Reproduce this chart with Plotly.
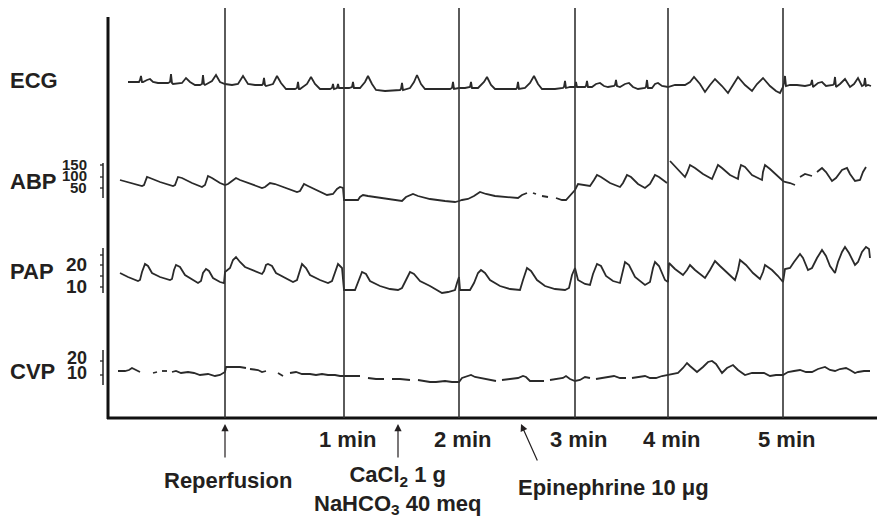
import plotly.graph_objects as go

W, H = 877, 518
INK = "#231f20"
TRACE = "#2a2a2a"
FONT = "Liberation Sans, Arial, sans-serif"

# ---- data (strip position, trace level) ----
ecg_x = [128,139,140,141,142,143,147,150,153,158,168,170,171,172,173,182,186,190,195,200,202,203,204,205,212,216,220,225,
         232,238,243,248,255,262,263,264,265,266,273,277,281,286,295,297,298,299,300,307,311,315,320,330,332,333,334,337,338,339,344,
         349,352,353,354,360,365,368,372,376,385,395,400,401,402,403,410,414,417,421,425,440,450,452,453,454,459,
         465,470,471,472,478,484,487,491,495,510,516,517,518,519,525,530,534,538,542,555,563,564,565,566,570,575,
         576,577,580,585,586,587,588,592,596,600,604,608,614,615,616,617,620,625,629,633,638,645,646,647,648,652,655,658,662,668,
         675,685,690,694,700,705,710,715,722,728,733,738,745,752,757,763,770,776,780,783,
         784,785,786,790,797,805,810,811,812,813,818,822,826,833,834,835,836,840,845,850,854,858,862,864,865,866,868,871]
ecg_y = [82,82,80,76,82,82,80,79,82,83,83,82,74,83,84,83,78,82,85,85,84,75,84,85,81,75,82,84,
         85,84,76,84,85,85,84,78,85,86,84,76,83,89,89,88,82,89,89,84,77,84,89,89,88,84,89,88,84,88,88,
         88,87,82,88,88,82,76,84,90,91,90,90,89,83,90,88,82,75,84,89,89,89,88,82,89,88,
         88,87,82,88,88,82,77,85,89,89,89,88,82,89,88,83,76,84,89,89,88,87,81,88,87,87,
         82,87,87,87,86,81,87,87,84,83,86,87,86,85,80,86,87,84,83,87,89,88,87,80,88,88,84,83,86,87,
         85,85,82,77,84,92,85,79,86,93,85,77,85,91,84,78,86,91,93,87,
         83,76,86,85,85,86,85,84,80,87,83,82,86,85,84,77,87,84,79,87,84,78,86,85,78,86,85,86]

abp_x = [120,130,142,144,147,150,160,173,175,178,182,192,202,205,208,212,220,225,
         228,232,236,240,250,262,265,270,275,285,297,300,304,308,318,327,333,337,340,343,344,
         350,358,360,363,368,380,390,398,402,406,413,418,430,445,455,459,
         462,468,474,480,486,495,505,518,522,527,None,533,536,None,542,548,None,556,562,566,570,573,575,
         578,583,590,594,597,601,610,620,623,627,631,638,645,650,655,659,665,667,None,
         670,678,685,687,690,695,703,712,714,718,722,730,738,739,741,745,752,762,763,765,770,778,783,
         785,790,795,None,800,805,812,None,817,822,826,832,836,842,847,850,855,860,863,866]
abp_y = [180,183,186,185,177,178,182,186,185,177,178,183,187,185,176,178,183,185,
         184,181,178,180,184,188,187,183,184,188,192,191,184,186,191,195,194,189,187,188,200,
         200,200,197,195,196,198,199,201,201,197,194,196,199,201,202,201,
         200,199,196,192,194,196,197,198,195,193,None,193,194,None,196,197,None,198,200,200,196,192,190,
         184,185,186,180,175,177,183,187,183,175,177,184,188,184,175,177,182,183,None,
         161,170,177,173,165,168,174,179,174,165,168,175,179,172,165,167,175,180,172,165,169,177,181,
         182,183,185,None,177,174,176,None,172,168,172,181,178,170,168,174,181,180,172,167]

pap_x = [120,128,138,140,142,145,148,152,160,170,172,174,176,180,185,192,198,201,203,206,209,213,220,224,
         225,230,233,236,240,245,252,262,264,266,268,272,276,285,293,297,300,302,306,310,320,328,332,336,338,342,344,
         355,358,362,366,370,380,390,398,402,406,410,414,420,430,437,442,448,455,457,459,
         460,470,474,478,481,485,490,500,510,520,523,527,531,537,545,555,565,569,572,575,
         578,585,590,593,597,601,606,613,620,623,625,629,635,645,650,653,655,659,665,668,
         669,675,683,687,690,695,705,710,715,720,728,735,738,740,746,753,760,763,765,772,778,783,
         785,790,794,800,803,808,812,817,822,826,830,835,838,842,845,849,855,858,862,866,869,870]
pap_y = [273,277,281,280,272,264,266,273,277,280,279,270,265,267,275,279,283,281,273,269,271,278,282,283,
         272,268,260,257,262,267,270,274,271,265,264,266,273,278,282,280,270,264,268,275,280,283,281,270,264,268,290,
         290,282,272,274,281,286,289,290,288,280,272,274,281,286,290,293,292,290,283,277,
         290,290,283,273,270,273,280,286,289,290,280,268,271,280,286,289,290,288,275,268,
         280,284,285,274,264,266,276,281,283,272,262,265,277,285,282,268,262,266,280,282,
         263,269,275,270,265,270,278,270,261,266,273,280,270,260,265,273,279,272,265,270,276,282,
         269,268,262,254,258,270,268,258,250,256,266,273,262,252,247,253,265,262,252,247,249,258]

cvp_x = [118,125,129,132,136,140,None,153,157,None,162,167,None,172,176,181,188,194,200,208,215,220,225,
         226,240,246,None,250,258,262,266,None,278,283,None,290,296,302,310,316,322,328,335,340,344,
         352,360,None,368,376,384,None,392,400,410,None,418,425,430,436,445,452,459,
         462,467,471,475,480,488,496,None,502,510,518,523,526,530,537,544,None,550,558,563,566,570,575,
         580,585,590,None,596,602,608,614,620,626,None,632,638,645,650,656,662,668,
         672,678,683,687,690,697,703,708,712,716,722,727,733,738,745,752,758,764,770,776,783,
         788,794,800,806,812,818,825,830,835,840,846,850,855,858,864,870]
cvp_y = [371,371,370,368,370,372,None,373,372,None,371,371,None,372,371,373,372,373,375,374,376,375,372,
         367,367,368,None,369,370,372,371,None,373,376,None,373,372,374,374,375,374,375,375,376,376,
         376,376,None,378,379,379,None,379,379,380,None,380,381,382,382,381,382,382,
         378,376,375,377,378,379,381,None,380,379,378,376,377,381,381,381,None,380,379,378,376,379,381,
         380,377,378,None,379,378,377,376,378,378,None,378,377,376,378,378,376,375,
         374,373,368,363,366,372,367,362,361,364,373,368,365,370,375,373,373,373,376,375,375,
         372,371,370,372,372,369,367,370,371,369,368,370,373,372,371,371]

# channel labels and their scale marks
channels = ["ECG", "ABP", "PAP", "CVP"]
channel_label_y = [80, 181, 271, 371]
scale_labels = {"ABP": ["150", "100", "50"], "PAP": ["20", "10"], "CVP": ["20", "10"]}
scale_label_y = {"ABP": [164, 175, 187], "PAP": [264, 286], "CVP": [358, 373]}
scale_label_size = {"ABP": 15, "PAP": 19, "CVP": 18}
scale_bar = {"ABP": (163, 198), "PAP": (248, 293), "CVP": (350, 385)}
scale_ticks = {"ABP": [165, 177, 188], "PAP": [255, 265, 276, 287], "CVP": [361, 375]}

# time markers
event_x = [225, 344, 459, 575, 668, 783]
tick_x = [344, 459, 575, 668, 783]
tick_text = ["1 min", "2 min", "3 min", "4 min", "5 min"]

# interventions: (label, arrow head x, arrow tail x, text x, text y)
interventions = [
    ("Reperfusion", 225, 225, 228, 480),
    ("CaCl<sub>2</sub> 1 g<br>NaHCO<sub>3</sub> 40 meq", 398, 398, 398, 490),
    ("Epinephrine 10 \u03bcg", 521, 538, 613, 487),
]

fig = go.Figure()
for xs, ys in [(ecg_x, ecg_y), (abp_x, abp_y), (pap_x, pap_y), (cvp_x, cvp_y)]:
    fig.add_trace(go.Scatter(x=xs, y=ys, mode="lines", connectgaps=False,
                             line=dict(color=TRACE, width=1.8), hoverinfo="skip", showlegend=False))

shapes = []
shapes.append(dict(type="line", x0=108, x1=108, y0=17, y1=419, line=dict(color="#111", width=3)))
shapes.append(dict(type="line", x0=107, x1=877, y0=418, y1=418, line=dict(color="#111", width=3)))
for ex in event_x:
    shapes.append(dict(type="line", x0=ex, x1=ex, y0=8, y1=418, line=dict(color="#333", width=1.6)))
for ch, (b0, b1) in scale_bar.items():
    shapes.append(dict(type="line", x0=103, x1=103, y0=b0, y1=b1, line=dict(color="#222", width=1.5)))
    for ty in scale_ticks[ch]:
        shapes.append(dict(type="line", x0=100, x1=103, y0=ty, y1=ty, line=dict(color="#222", width=1.3)))

ann = []
for ch, ly in zip(channels, channel_label_y):
    ann.append(dict(x=8, y=ly, text="<b>%s</b>" % ch, xanchor="left", yanchor="middle", showarrow=False,
                    font=dict(family=FONT, size=22, color=INK)))
for ch, labs in scale_labels.items():
    for lab, ly in zip(labs, scale_label_y[ch]):
        ann.append(dict(x=89, y=ly, text="<b>%s</b>" % lab, xanchor="right", yanchor="middle", showarrow=False,
                        font=dict(family=FONT, size=scale_label_size[ch], color=INK)))
for tx, tt in zip(tick_x, tick_text):
    ann.append(dict(x=tx + 3, y=439, text="<b>%s</b>" % tt, xanchor="center", yanchor="middle", showarrow=False,
                    font=dict(family=FONT, size=22, color=INK)))
for lab, hx, tx, lx, ly in interventions:
    ann.append(dict(x=hx, y=424, ax=tx, ay=462 if hx != tx else 459, axref="x", ayref="y", text="",
                    showarrow=True, arrowhead=2, arrowsize=1.2, arrowwidth=1.2, arrowcolor=INK))
    ann.append(dict(x=lx, y=ly, text="<b>%s</b>" % lab, xanchor="center", yanchor="middle", showarrow=False,
                    font=dict(family=FONT, size=22, color=INK), align="center"))

fig.update_layout(
    width=W, height=H, margin=dict(l=0, r=0, t=0, b=0),
    paper_bgcolor="white", plot_bgcolor="white",
    xaxis=dict(range=[0, W], visible=False, fixedrange=True),
    yaxis=dict(range=[H, 0], visible=False, fixedrange=True),
    shapes=shapes, annotations=ann, showlegend=False,
)
fig.write_html("out.html", config={"displayModeBar": False},
               post_script="document.body.style.margin='0';document.body.style.overflow='hidden';")
